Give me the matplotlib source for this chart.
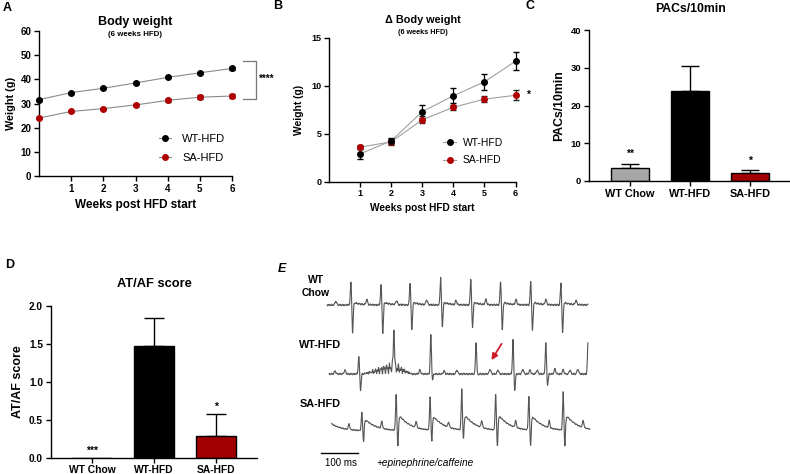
import numpy as np
import matplotlib
matplotlib.use("Agg")
import matplotlib.pyplot as plt
from matplotlib.lines import Line2D

plt.rcParams['font.family'] = ['Liberation Sans', 'DejaVu Sans']
plt.rcParams['axes.linewidth'] = 1.0

# ---------------- data ----------------
weeks_a = [0, 1, 2, 3, 4, 5, 6]
wt_bw = [31.6, 34.5, 36.3, 38.5, 40.8, 42.7, 44.5]
wt_bw_err = [0.4, 0.4, 0.4, 0.4, 0.4, 0.5, 0.5]
sa_bw = [24.0, 26.7, 27.9, 29.4, 31.3, 32.6, 33.1]
sa_bw_err = [0.4, 0.4, 0.4, 0.5, 0.5, 0.9, 0.9]

weeks_b = [1, 2, 3, 4, 5, 6]
wt_dbw = [2.9, 4.25, 7.3, 8.95, 10.4, 12.55]
wt_dbw_err = [0.5, 0.3, 0.65, 0.8, 0.8, 0.95]
sa_dbw = [3.6, 4.15, 6.45, 7.75, 8.6, 9.0]
sa_dbw_err = [0.2, 0.3, 0.35, 0.25, 0.35, 0.5]

groups = ["WT Chow", "WT-HFD", "SA-HFD"]
pacs = [3.35, 23.75, 2.1]
pacs_err = [1.25, 6.8, 0.8]
pacs_sig = ["**", "", "*"]
atf = [0.0, 1.47, 0.28]
atf_err = [0.0, 0.37, 0.295]
atf_sig = ["***", "", "*"]
bar_colors = ["#a6a6a6", "#000000", "#a00000"]

# ECG (time in ms, amplitude in arbitrary units)
chow_beats = [82, 162, 239, 320, 400, 479, 559, 639]
chow_r = [23, 20, 22, 28, 26, 24, 24, 22]
chow_s = [28, 28, 25, 22, 23, 26, 26, 28]
chow_p = [42, 124, 203, 283, 361, 440, 520, 599, 679]
chow_p_amp = [4, 5, 4, 5, 4, 5, 5, 5, 4]
chow_span = [19, 711]

hfd_beats = [103, 196, 294, 414, 512, 599, 711]
hfd_r = [17, 37, 39, 32, 34, 31, 32]
hfd_s = [16, 2, 6, 1, 16, 11, 0]
hfd_p = [40, 66, 265, 329, 363, 451, 472, 538, 557, 576, 623, 645, 663, 684]
hfd_p_amp = [3, 4, 4, 3, 4, 5, 4, 5, 4, 4, 5, 4, 4, 5]
hfd_burst = [114, 196, 244]  # start, peak, end of irregular activity
hfd_span = [24, 711]

sa_beats = [111, 202, 292, 376, 466, 554, 645]
sa_r = [18, 36, 33, 41, 36, 34, 38]
sa_s = [11, 16, 11, 9, 16, 16, 16]
sa_t_amp = [13, 17, 16, 17, 17, 16, 17]
sa_p = [77, 164, 255, 341, 429, 519, 608, 698]
sa_p_amp = [6, 7, 6, 5, 7, 7, 7, 7]
sa_span = [31, 716]

# ---------------- figure ----------------
W, H = 790, 474
fig = plt.figure(figsize=(W / 100, H / 100), dpi=100)


def ax_px(x0, x1, y0, y1):
    # y0 = top px, y1 = bottom px
    return fig.add_axes([x0 / W, 1 - y1 / H, (x1 - x0) / W, (y1 - y0) / H])


def ftext(px, py, s, **kw):
    fig.text(px / W, 1 - py / H, s, **kw)


def style(ax, fs):
    for sp in ["top", "right"]:
        ax.spines[sp].set_visible(False)
    ax.tick_params(direction="out", length=3.5, width=1.0, labelsize=fs, pad=2)
    for lab in ax.get_xticklabels() + ax.get_yticklabels():
        lab.set_fontweight("bold")


red = "#b00000"
lgray = "#8a8a8a"

# ---------- A ----------
axA = ax_px(39, 232, 31, 176)
axA.plot(weeks_a, wt_bw, color=lgray, lw=0.8, zorder=1, clip_on=False)
axA.plot(weeks_a, sa_bw, color=lgray, lw=0.8, zorder=1, clip_on=False)
axA.errorbar(weeks_a, sa_bw, yerr=sa_bw_err, fmt="o", ms=4, color=red, mec=red,
             ecolor="#222222", elinewidth=0.9, capsize=2.5, zorder=3, clip_on=False)
axA.errorbar(weeks_a, wt_bw, yerr=wt_bw_err, fmt="o", ms=4, color="black",
             ecolor="black", elinewidth=0.9, capsize=2.5, zorder=3, clip_on=False)
axA.set_xlim(0, 6)
axA.set_ylim(0, 60)
axA.set_xticks([1, 2, 3, 4, 5, 6])
axA.set_yticks([0, 10, 20, 30, 40, 50, 60])
style(axA, 7)
axA.set_xlabel("Weeks post HFD start", fontsize=8.5, fontweight="bold", labelpad=4)
axA.set_ylabel("Weight (g)", fontsize=7.8, fontweight="bold", labelpad=3)
hA = [Line2D([], [], color=lgray, lw=0.8, marker="o", ms=4, mfc="black", mec="black"),
      Line2D([], [], color=lgray, lw=0.8, marker="o", ms=4, mfc=red, mec=red)]
axA.legend(hA, ["WT-HFD", "SA-HFD"], loc="center left", bbox_to_anchor=(0.62, 0.19),
           frameon=False, fontsize=8, handlelength=1.1, handletextpad=1.0,
           labelspacing=0.75, borderpad=0, borderaxespad=0)
# bracket
axA.plot([6.34, 6.75, 6.75, 6.34], [47.7, 47.7, 32.0, 32.0], color="#777777", lw=0.9,
         clip_on=False)
axA.text(6.85, 40.0, "****", fontsize=7, fontweight="bold", ha="left", va="center",
         clip_on=False)
ftext(135, 22, "Body weight", fontsize=9, fontweight="bold", ha="center", va="center")
ftext(135, 34, "(6 weeks HFD)", fontsize=5.7, fontweight="bold", ha="center", va="center")
ftext(3, 8, "A", fontsize=9, fontweight="bold", ha="left", va="center")

# ---------- B ----------
axB = ax_px(329, 515.5, 37.7, 181.7)
axB.plot(weeks_b, wt_dbw, color="#a0a0a0", lw=0.8, zorder=1, clip_on=False)
axB.plot(weeks_b, sa_dbw, color="#a0a0a0", lw=0.8, zorder=1, clip_on=False)
axB.errorbar(weeks_b, sa_dbw, yerr=sa_dbw_err, fmt="o", ms=4, color=red, mec=red,
             ecolor="#222222", elinewidth=0.9, capsize=2.5, zorder=3, clip_on=False)
axB.errorbar(weeks_b, wt_dbw, yerr=wt_dbw_err, fmt="o", ms=4, color="black",
             ecolor="black", elinewidth=0.9, capsize=2.5, zorder=3, clip_on=False)
axB.set_xlim(0, 6)
axB.set_ylim(0, 15)
axB.set_xticks([1, 2, 3, 4, 5, 6])
axB.set_yticks([0, 5, 10, 15])
style(axB, 6.5)
axB.set_xlabel("Weeks post HFD start", fontsize=7.3, fontweight="bold", labelpad=3)
axB.set_ylabel("Weight (g)", fontsize=7.4, fontweight="bold", labelpad=5)
hB = [Line2D([], [], color="#a0a0a0", lw=0.8, marker="o", ms=4, mfc="black", mec="black"),
      Line2D([], [], color="#a0a0a0", lw=0.8, marker="o", ms=4, mfc=red, mec=red)]
axB.legend(hB, ["WT-HFD", "SA-HFD"], loc="center left", bbox_to_anchor=(0.61, 0.21),
           frameon=False, fontsize=7.5, handlelength=1.3, handletextpad=0.6,
           labelspacing=0.75, borderpad=0, borderaxespad=0)
axB.text(6.38, 9.0, "*", fontsize=7, fontweight="bold", ha="left", va="center",
         clip_on=False)
ftext(423, 20, "\u0394 Body weight", fontsize=7.8, fontweight="bold", ha="center", va="center")
ftext(423, 32, "(6 weeks HFD)", fontsize=5.2, fontweight="bold", ha="center", va="center")
ftext(273, 6, "B", fontsize=9, fontweight="bold", ha="left", va="center")


def bar_panel(ax, vals, errs, sig, ymax, yticks, fs_tick, fs_x, capsize):
    x = np.arange(len(groups))
    ax.bar(x, vals, width=0.645, color=bar_colors, edgecolor="black", linewidth=1.0,
           zorder=2)
    for xi, v, e in zip(x, vals, errs):
        if e > 0:
            ax.errorbar([xi], [v], yerr=[[0], [e]], fmt="none", ecolor="black",
                        elinewidth=1.0, capsize=capsize, capthick=1.0, zorder=1)
    ax.set_ylim(0, ymax)
    ax.set_yticks(yticks)
    ax.set_xticks(x)
    ax.set_xticklabels(groups)
    style(ax, fs_tick)
    for lab in ax.get_xticklabels():
        lab.set_fontsize(fs_x)
    return x


# ---------- C ----------
axC = ax_px(589, 790, 30, 181)
xc = bar_panel(axC, pacs, pacs_err, pacs_sig, 40, [0, 10, 20, 30, 40], 6.8, 7.8, 6.5)
axC.set_xlim(-0.683, 2.667)
axC.set_ylabel("PACs/10min", fontsize=8.8, fontweight="bold", labelpad=4)
for xi, v, e, s in zip(xc, pacs, pacs_err, pacs_sig):
    if s:
        axC.text(xi, v + e + 1.2, s, fontsize=7.5, fontweight="bold", ha="center",
                 va="bottom")
ftext(690, 9, "PACs/10min", fontsize=8.8, fontweight="bold", ha="center", va="center")
ftext(525, 6, "C", fontsize=9, fontweight="bold", ha="left", va="center")

# ---------- D ----------
axD = ax_px(50.7, 257, 306, 457.7)
xd = bar_panel(axD, atf, atf_err, atf_sig, 2.0, [0.0, 0.5, 1.0, 1.5, 2.0], 7.3, 7.4, 7)
axD.set_xlim(-0.674, 2.669)
axD.set_yticklabels(["0.0", "0.5", "1.0", "1.5", "2.0"])
for lab in axD.get_yticklabels():
    lab.set_fontweight("bold")
axD.set_ylabel("AT/AF score", fontsize=9, fontweight="bold", labelpad=4)
for xi, v, e, s in zip(xd, atf, atf_err, atf_sig):
    if s:
        axD.text(xi, v + e + 0.03, s, fontsize=7.5, fontweight="bold", ha="center",
                 va="bottom")
ftext(154, 284, "AT/AF score", fontsize=9.3, fontweight="bold", ha="center", va="center")
ftext(5, 265, "D", fontsize=9, fontweight="bold", ha="left", va="center")

# ---------- E ----------
PX_PER_MS = 37.7 / 100.0
axE = ax_px(270, 610, 240, 474)
axE.set_xlim((270 - 320) / PX_PER_MS, (610 - 320) / PX_PER_MS)
axE.set_ylim(0, 234)
axE.axis("off")


def spikes(t, beats, r, s, width=2.2):
    y = np.zeros_like(t)
    for tb, a, b in zip(beats, r, s):
        y += a * np.exp(-((t - tb) / width) ** 2)
        y -= b * np.exp(-((t - tb - 4.5) / width) ** 2)
    return y


def bumps(t, times, amps, width=3.0):
    y = np.zeros_like(t)
    for tp, a in zip(times, amps):
        y += a * np.exp(-((t - tp) / width) ** 2)
    return y


def decays(t, beats, amps, tau, delay=5.0):
    y = np.zeros_like(t)
    for tb, a in zip(beats, amps):
        d = t - tb - delay
        m = d > 0
        y[m] += a * (1 - np.exp(-d[m] / 2.0)) * np.exp(-d[m] / tau)
    return y


def texture(t, amp):
    return amp * (0.6 * np.sin(2 * np.pi * t / 7.3) + 0.4 * np.sin(2 * np.pi * t / 3.1 + 1.0))


# Chow trace
t1 = np.arange(chow_span[0], chow_span[1], 0.5)
y1 = (169 + spikes(t1, chow_beats, chow_r, chow_s) + bumps(t1, chow_p, chow_p_amp)
      + decays(t1, chow_beats, [3] * len(chow_beats), 18) + texture(t1, 0.9))
# WT-HFD trace
t2 = np.arange(hfd_span[0], hfd_span[1], 0.5)
b0, bp, b1 = hfd_burst
env = np.where((t2 > b0) & (t2 < bp), (t2 - b0) / (bp - b0), 0.0)
env = np.where((t2 >= bp) & (t2 < b1), 1 - (t2 - bp) / (b1 - bp), env)
y2 = (100 + spikes(t2, hfd_beats, hfd_r, hfd_s) + bumps(t2, hfd_p, hfd_p_amp)
      + env * (7 + 6 * np.sin(2 * np.pi * t2 / 5.3) * np.sin(2 * np.pi * t2 / 17.0))
      + texture(t2, 0.9))
# SA-HFD trace
t3 = np.arange(sa_span[0], sa_span[1], 0.5)
y3 = (43 + spikes(t3, sa_beats, sa_r, sa_s) + bumps(t3, sa_p, sa_p_amp, width=2.5)
      + decays(t3, sa_beats, sa_t_amp, 30) + decays(t3, [10], [12], 30)
      + texture(t3, 0.6))

for tt, yy in [(t1, y1), (t2, y2), (t3, y3)]:
    axE.plot(tt, yy, color="#555555", lw=0.8)

# arrow
axE.annotate("", xy=((490 - 320) / PX_PER_MS, 474 - 362.5),
             xytext=((503 - 320) / PX_PER_MS, 474 - 341.5),
             arrowprops=dict(arrowstyle="-|>", color="#d01c2a", lw=1.3,
                             mutation_scale=9))
# scale bar
sb0 = (320.7 - 320) / PX_PER_MS
axE.plot([sb0, sb0 + 100], [474 - 453, 474 - 453], color="black", lw=1.0)
ftext(325, 462.5, "100 ms", fontsize=7, ha="left", va="center")
ftext(376, 462.5, "+epinephrine/caffeine", fontsize=7.3, style="italic", ha="left",
      va="center")
ftext(307.5, 280, "WT", fontsize=7.5, fontweight="bold", ha="left", va="center")
ftext(302, 292.5, "Chow", fontsize=7.5, fontweight="bold", ha="left", va="center")
ftext(299, 345, "WT-HFD", fontsize=7.8, fontweight="bold", ha="left", va="center")
ftext(300, 404, "SA-HFD", fontsize=7.8, fontweight="bold", ha="left", va="center")
ftext(278, 269, "E", fontsize=9, fontweight="bold", style="italic", ha="left", va="center")

fig.savefig("out.png", dpi=100)
